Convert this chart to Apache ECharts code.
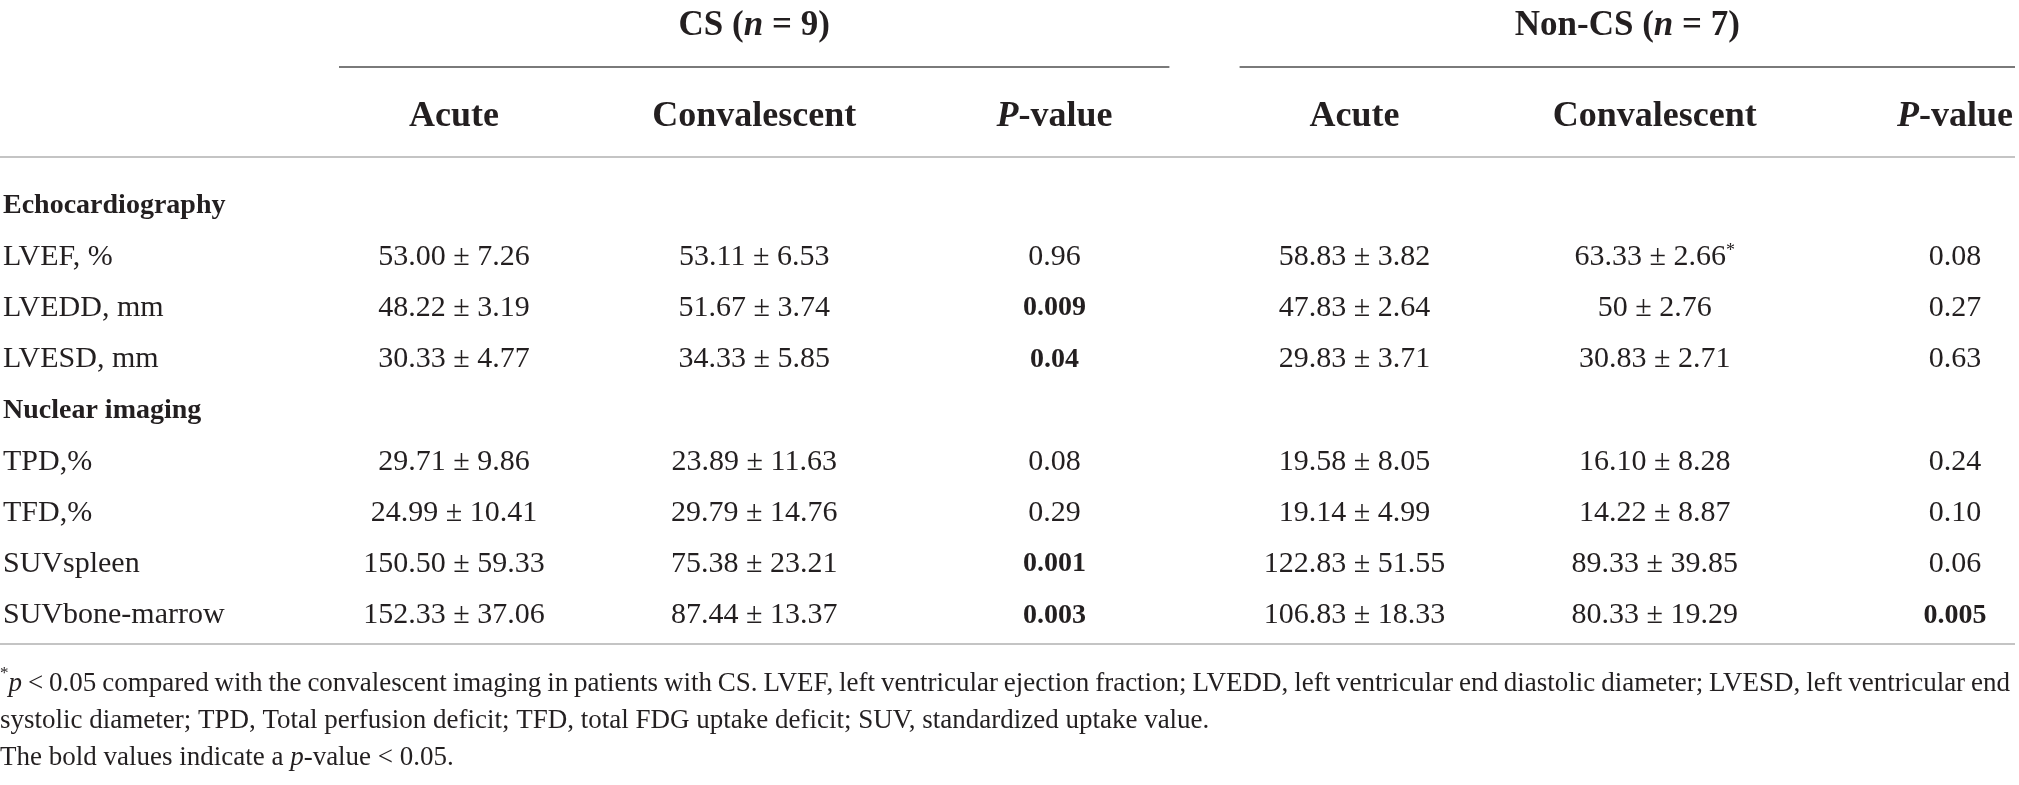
<!DOCTYPE html>
<html>
<head>
<meta charset="utf-8">
<title>CS vs Non-CS imaging</title>
<script src="https://cdn.jsdelivr.net/npm/echarts@6.0.0/dist/echarts.min.js"></script>
<style>
    html, body { margin: 0; padding: 0; background: #fff; }
    #main { width: 2019px; height: 785px; }
</style>
</head>
<body>
<div id="main"></div>
<script>
// 行标签（含分组标题行）
var rowLabels = ['Echocardiography', 'LVEF, %', 'LVEDD, mm', 'LVESD, mm', 'Nuclear imaging',
    'TPD,%', 'TFD,%', 'SUVspleen', 'SUVbone-marrow'];
var sectionRows = ['Echocardiography', 'Nuclear imaging'];
// 有数据的行
var measureRows = ['LVEF, %', 'LVEDD, mm', 'LVESD, mm', 'TPD,%', 'TFD,%', 'SUVspleen', 'SUVbone-marrow'];
// 列标题
var columns = ['Acute', 'Convalescent', 'P-value', 'Acute', 'Convalescent', 'P-value'];
// 分组标题: [名称, n, 起始列, 结束列]
var groups = [['CS', 9, 0, 2], ['Non-CS', 7, 3, 5]];

// 各列数值
var csAcute = ['53.00 ± 7.26', '48.22 ± 3.19', '30.33 ± 4.77', '29.71 ± 9.86', '24.99 ± 10.41', '150.50 ± 59.33', '152.33 ± 37.06'];
var csConv = ['53.11 ± 6.53', '51.67 ± 3.74', '34.33 ± 5.85', '23.89 ± 11.63', '29.79 ± 14.76', '75.38 ± 23.21', '87.44 ± 13.37'];
var csP = ['0.96', '0.009', '0.04', '0.08', '0.29', '0.001', '0.003'];
var ncsAcute = ['58.83 ± 3.82', '47.83 ± 2.64', '29.83 ± 3.71', '19.58 ± 8.05', '19.14 ± 4.99', '122.83 ± 51.55', '106.83 ± 18.33'];
var ncsConv = ['63.33 ± 2.66*', '50 ± 2.76', '30.83 ± 2.71', '16.10 ± 8.28', '14.22 ± 8.87', '89.33 ± 39.85', '80.33 ± 19.29'];
var ncsP = ['0.08', '0.27', '0.63', '0.24', '0.10', '0.06', '0.005'];

var footLines = [
    '{sup|*}{it|p} < 0.05 compared with the convalescent imaging in patients with CS. LVEF, left ventricular ejection fraction; LVEDD, left ventricular end diastolic diameter; LVESD, left ventricular end',
    'systolic diameter; TPD, Total perfusion deficit; TFD, total FDG uptake deficit; SUV, standardized uptake value.',
    'The bold values indicate a {it|p}-value < 0.05.'
];

// 样式
var FONT = 'Liberation Serif';
var INK = '#231f20';
var BODY = 30;
var HEAD = 36;
var GROUP = 35;
var FOOT = 27;

var gridLeft = 452, gridRight = 64, gridTop = 180, gridHeight = 461;
var tableRight = 2015;

// 拼出单元格数据 [列, 行, 文本]
var columnValues = [csAcute, csConv, csP, ncsAcute, ncsConv, ncsP];
var cells = [];
for (var c = 0; c < columnValues.length; c++) {
    for (var r = 0; r < measureRows.length; r++) {
        var txt = columnValues[c][r];
        var isP = columns[c] == 'P-value';
        if (isP && parseFloat(txt) < 0.05) {
            txt = '{b|' + txt + '}';
        }
        if (txt.charAt(txt.length - 1) == '*') {
            txt = txt.slice(0, -1) + '{sup|*}';
        }
        cells.push([c, measureRows[r], txt]);
    }
}

// 脚注第一行两端对齐：量出自然宽度，把多余的宽度分给空格
var ctx = document.createElement('canvas').getContext('2d');
ctx.font = FOOT + 'px "' + FONT + '"';
var plain1 = footLines[0].replace(/\{\w+\|([^}]*)\}/g, '$1');
var gaps1 = plain1.split(' ').length - 1;
var spaceW = ctx.measureText(' ').width + (tableRight - ctx.measureText(plain1).width) / gaps1;
footLines[0] = footLines[0].split(' ').join('{sp| }');

var rich = {
    b: { fontFamily: FONT, fontSize: 28, fontWeight: 'bold', color: INK },
    sup: { fontFamily: FONT, fontSize: 18, color: INK, verticalAlign: 'top', padding: [0, 0, 10, 0] }
};

var chart = echarts.init(document.getElementById('main'));
var option = {
    animation: false,
    title: {
        text: footLines.join('\n'),
        left: 0,
        top: 665,
        padding: 0,
        textStyle: {
            fontFamily: FONT, fontSize: FOOT, fontWeight: 'normal', color: INK, lineHeight: 37,
            rich: {
                it: { fontFamily: FONT, fontSize: FOOT, fontStyle: 'italic', color: INK, lineHeight: 37 },
                sp: { fontFamily: FONT, fontSize: FOOT, color: INK, lineHeight: 37, width: spaceW },
                sup: { fontFamily: FONT, fontSize: 17, color: INK, lineHeight: 37, verticalAlign: 'top', padding: [0, 0, 12, 0] }
            }
        }
    },
    grid: { left: gridLeft, right: gridRight, top: gridTop, height: gridHeight },
    xAxis: {
        type: 'category',
        position: 'top',
        boundaryGap: false,
        data: columns,
        axisLine: { show: false },
        axisTick: { show: false },
        splitLine: { show: false },
        axisLabel: {
            interval: 0,
            margin: 45,
            fontFamily: FONT, fontSize: HEAD, fontWeight: 'bold', color: INK,
            formatter: function(v) {
                if (v == 'P-value') return '{it|P}-value';
                return v;
            },
            rich: {
                it: { fontFamily: FONT, fontSize: HEAD, fontWeight: 'bold', fontStyle: 'italic', color: INK }
            }
        }
    },
    yAxis: {
        type: 'category',
        inverse: true,
        data: rowLabels,
        axisLine: { show: false },
        axisTick: { show: false },
        splitLine: { show: false },
        axisLabel: {
            align: 'left',
            margin: gridLeft - 1,
            fontFamily: FONT, fontSize: BODY, color: INK,
            formatter: function(v) {
                return sectionRows.indexOf(v) >= 0 ? '{b|' + v + '}' : v;
            },
            rich: rich
        }
    },
    graphic: [
        // 表头下横线
        { type: 'line', shape: { x1: 0, y1: 157, x2: tableRight, y2: 157 }, style: { stroke: '#c4c4c4', lineWidth: 2 } },
        // 表格底线
        { type: 'line', shape: { x1: 0, y1: 644, x2: tableRight, y2: 644 }, style: { stroke: '#c4c4c4', lineWidth: 2 } }
    ],
    series: [{
        // 分组标题及下划线
        type: 'custom',
        data: groups,
        renderItem: function(params, api) {
            var g = groups[params.dataIndex];
            var x1 = api.coord([g[2], rowLabels[0]])[0] - 115;
            var x2 = Math.min(api.coord([g[3], rowLabels[0]])[0] + 115, tableRight);
            var top = params.coordSys.y;
            return {
                type: 'group',
                children: [{
                    type: 'text',
                    x: (x1 + x2) / 2,
                    y: top - 154,
                    style: {
                        text: g[0] + ' ({it|n} = ' + g[1] + ')',
                        align: 'center', verticalAlign: 'middle',
                        fontFamily: FONT, fontSize: GROUP, fontWeight: 'bold', fill: INK,
                        rich: { it: { fontFamily: FONT, fontSize: GROUP, fontWeight: 'bold', fontStyle: 'italic', color: INK } }
                    }
                }, {
                    type: 'line',
                    shape: { x1: x1, y1: top - 113, x2: x2, y2: top - 113 },
                    style: { stroke: '#7a7a7a', lineWidth: 2 }
                }]
            };
        }
    }, {
        // 表格数值
        type: 'custom',
        data: cells,
        encode: { x: 0, y: 1 },
        renderItem: function(params, api) {
            var d = cells[params.dataIndex];
            var pt = api.coord([d[0], d[1]]);
            return {
                type: 'text',
                x: pt[0],
                y: pt[1],
                style: {
                    text: d[2],
                    align: 'center', verticalAlign: 'middle',
                    fontFamily: FONT, fontSize: BODY, fill: INK,
                    rich: rich
                }
            };
        }
    }]
};
chart.setOption(option);
</script>
</body>
</html>
